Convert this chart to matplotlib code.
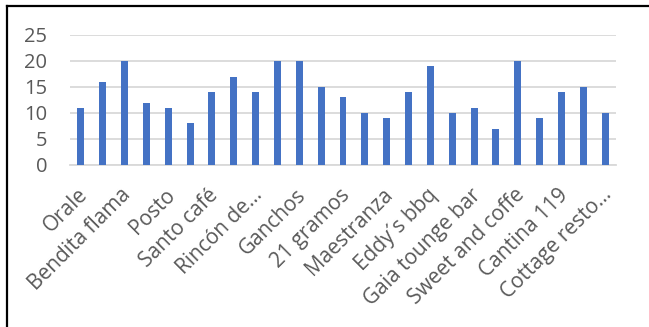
import matplotlib
matplotlib.use("Agg")
import matplotlib.pyplot as plt
from matplotlib.lines import Line2D
from matplotlib.transforms import ScaledTranslation

labels = ["Orale", "Bendita flama", "Posto", "Santo café", "Rincón de…",
          "Ganchos", "21 gramos", "Maestranza", "Eddy´s bbq", "Gaia tounge bar",
          "Sweet and coffe", "Cantina 119", "Cottage resto…"]
values = [11, 16, 20, 12, 11, 8, 14, 17, 14, 20, 20, 15, 13, 10, 9, 14, 19,
          10, 11, 7, 20, 9, 14, 15, 10]
yticks = [0, 5, 10, 15, 20, 25]

plt.rcParams['font.family'] = ['Open Sans', 'DejaVu Sans']

W, H = 649, 327
fig = plt.figure(figsize=(W / 100, H / 100), dpi=100)
ax = fig.add_axes([70 / W, 1 - 165 / H, (616 - 70) / W, (165 - 35) / H])

x = list(range(len(values)))
ax.bar(x, values, width=0.32, color="#4472C4", zorder=3)
ax.set_xlim(-0.5, len(values) - 0.5)
ax.set_ylim(0, 25)
ax.set_yticks(yticks)
ax.set_yticklabels([str(v) for v in yticks])
ax.grid(axis="y", color="#d9d9d9", linewidth=1.3, zorder=0)
for s in ["top", "right", "left"]:
    ax.spines[s].set_visible(False)
ax.spines["bottom"].set_color("#d9d9d9")
ax.spines["bottom"].set_linewidth(1.3)
ax.tick_params(length=0, colors="#595959")
ax.tick_params(axis="y", labelsize=14.5, pad=16.5)

ax.set_xticks(x[::2])
ax.set_xticklabels(labels, rotation=45, ha="right", rotation_mode="anchor",
                   fontsize=15, color="#595959")
ax.tick_params(axis="x", pad=14)
shift = ScaledTranslation(-4 / 100, 0, fig.dpi_scale_trans)
for t in ax.get_xticklabels():
    t.set_transform(t.get_transform() + shift)

# frame border
fig.add_artist(Line2D([7 / W, 7 / W], [0, 1 - 6 / H], transform=fig.transFigure,
                      color="black", linewidth=1.6))
fig.add_artist(Line2D([7 / W, 1], [1 - 6 / H, 1 - 6 / H], transform=fig.transFigure,
                      color="black", linewidth=1.6))

fig.savefig("out.png", dpi=100)
